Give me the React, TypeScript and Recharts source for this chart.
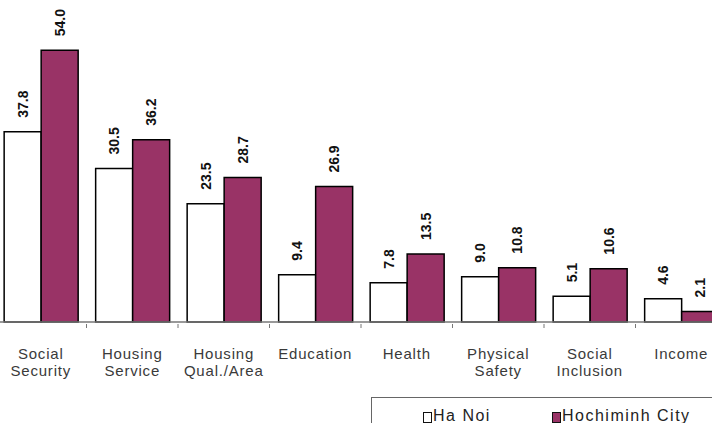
import React from "react";
import { BarChart, Bar, XAxis, YAxis, LabelList } from "recharts";

// category names, split into the lines shown under the axis
const categories = [
  "Social Security",
  "Housing Service",
  "Housing Qual./Area",
  "Education",
  "Health",
  "Physical Safety",
  "Social Inclusion",
  "Income",
];
const categoryLines: string[][] = [
  ["Social", "Security"],
  ["Housing", "Service"],
  ["Housing", "Qual./Area"],
  ["Education"],
  ["Health"],
  ["Physical", "Safety"],
  ["Social", "Inclusion"],
  ["Income"],
];

const haNoi = [37.8, 30.5, 23.5, 9.4, 7.8, 9.0, 5.1, 4.6];
const hcmCity = [54.0, 36.2, 28.7, 26.9, 13.5, 10.8, 10.6, 2.1];

const seriesNames = ["Ha Noi", "Hochiminh City"];
const PURPLE = "#993366";

const CHART_W = 742;
const CHART_H = 423;
const MARGIN = { top: 20, right: 10, bottom: 41, left: 0 };
const PLOT_W = CHART_W - MARGIN.left - MARGIN.right;
const HALF_BAND = PLOT_W / categories.length / 2;

const rows = categories.map((name, i) => ({
  name,
  haNoi: haNoi[i],
  hcm: hcmCity[i],
}));

function CategoryTick(props: any) {
  const { x, y, payload } = props;
  const lines = categoryLines[payload.index] ?? [payload.value];
  return (
    <g>
      <line x1={x - HALF_BAND} x2={x - HALF_BAND} y1={y} y2={y + 4} stroke="#777" strokeWidth={1} />
      {lines.map((ln, k) => (
        <text
          key={k}
          x={x}
          y={y + 35 + k * 17}
          textAnchor="middle"
          fontFamily="'Liberation Sans', Arial, sans-serif"
          fontSize={15}
          letterSpacing={0.8}
          fill="#3a3a3a"
        >
          {ln}
        </text>
      ))}
    </g>
  );
}

function ValueLabel(props: any) {
  const { x, y, width, value } = props;
  const cx = x + width / 2;
  const ty = y - 14;
  return (
    <text
      x={cx}
      y={ty}
      transform={`rotate(-90 ${cx} ${ty})`}
      textAnchor="start"
      dominantBaseline="central"
      fontFamily="'Liberation Sans Narrow', 'Liberation Sans', Arial, sans-serif"
      fontWeight="bold"
      fontSize={14}
      fill="#111"
    >
      {Number(value).toFixed(1)}
    </text>
  );
}

function LegendBox() {
  const item = (color: string, label: string, left: number) => (
    <div style={{ position: "absolute", left, top: 9, display: "flex", alignItems: "flex-start" }}>
      <span
        style={{
          display: "inline-block",
          width: 7,
          height: 9,
          marginTop: 5,
          background: color,
          border: "1px solid #111",
        }}
      />
      <span style={{ marginLeft: 1, fontSize: 16, lineHeight: "17px", color: "#222", letterSpacing: 1.5 }}>
        {label}
      </span>
    </div>
  );
  return (
    <div
      style={{
        position: "absolute",
        left: 371,
        top: 397,
        width: 400,
        height: 60,
        border: "1px solid #666",
        background: "#fff",
        fontFamily: "'Liberation Sans', Arial, sans-serif",
      }}
    >
      {item("#fff", seriesNames[0], 51)}
      {item(PURPLE, seriesNames[1], 180)}
    </div>
  );
}

export default function App() {
  return (
    <div
      style={{
        position: "absolute",
        left: 0,
        top: 0,
        width: 712,
        height: 423,
        overflow: "hidden",
        background: "#fff",
      }}
    >
      <div style={{ position: "absolute", left: -5, top: 0 }}>
        <BarChart
          width={CHART_W}
          height={CHART_H}
          data={rows}
          margin={MARGIN}
          barCategoryGap="10%"
          barGap={0}
        >
          <XAxis
            dataKey="name"
            interval={0}
            height={60}
            tickSize={0}
            tickLine={false}
            axisLine={{ stroke: "#777", strokeWidth: 1.5 }}
            tick={<CategoryTick />}
          />
          <YAxis hide domain={[0, 60]} />
          <Bar dataKey="haNoi" name={seriesNames[0]} fill="#fff" stroke="#000" strokeWidth={1.5} isAnimationActive={false}>
            <LabelList dataKey="haNoi" content={<ValueLabel />} />
          </Bar>
          <Bar dataKey="hcm" name={seriesNames[1]} fill={PURPLE} stroke="#000" strokeWidth={1.5} isAnimationActive={false}>
            <LabelList dataKey="hcm" content={<ValueLabel />} />
          </Bar>
        </BarChart>
      </div>
      <LegendBox />
    </div>
  );
}
